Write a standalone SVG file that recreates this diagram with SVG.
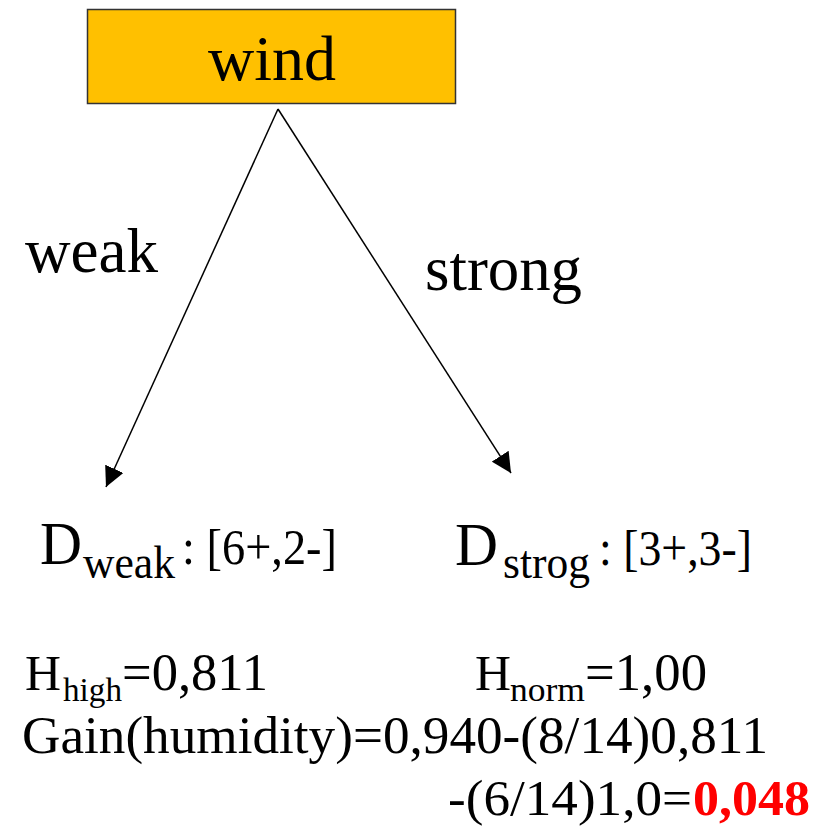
<svg xmlns="http://www.w3.org/2000/svg" width="823" height="826" viewBox="0 0 823 826">
<style>
text{font-family:"Liberation Serif","Times New Roman","DejaVu Serif",serif;fill:#000}
.c{stroke:#000;stroke-width:1.5;fill:none}
</style>
<defs>
<marker id="ah" viewBox="0 0 10 10" refX="10" refY="5" markerWidth="20" markerHeight="20" markerUnits="userSpaceOnUse" orient="auto">
<path d="M0,0 L10,5 L0,10 z" fill="#000"/>
</marker>
</defs>
<rect width="823" height="826" fill="#fff"/>
<g font-family="'Liberation Serif','Times New Roman',serif">
<g id="wind">
<rect x="87.5" y="9.5" width="368" height="94" fill="#FFC000" stroke="#333" stroke-width="1.5"/>
<text x="208" y="80" font-size="64" textLength="128" lengthAdjust="spacingAndGlyphs">wind</text>
</g>
<g id="connectors">
<line class="c" x1="278" y1="109" x2="106" y2="487" marker-end="url(#ah)"/>
<line class="c" x1="278" y1="109" x2="511" y2="473" marker-end="url(#ah)"/>
<text x="25" y="272" font-size="64" textLength="133" lengthAdjust="spacingAndGlyphs">weak</text>
<text x="425" y="290" font-size="64" textLength="157" lengthAdjust="spacingAndGlyphs">strong</text>
</g>
<g id="dweak">
<text x="40" y="564" font-size="62" textLength="42" lengthAdjust="spacingAndGlyphs">D</text>
<text x="83" y="578" font-size="46" textLength="92" lengthAdjust="spacingAndGlyphs">weak</text>
<text x="182" y="564" font-size="50" textLength="155" lengthAdjust="spacingAndGlyphs">: [6+,2-]</text>
</g>
<g id="dstrong">
<text x="455" y="565" font-size="62" textLength="43" lengthAdjust="spacingAndGlyphs">D</text>
<text x="503" y="578" font-size="46" textLength="87" lengthAdjust="spacingAndGlyphs">strog</text>
<text x="599" y="565" font-size="50" textLength="153" lengthAdjust="spacingAndGlyphs">: [3+,3-]</text>
</g>
<g id="formula">
<text x="25" y="690" font-size="50" textLength="36" lengthAdjust="spacingAndGlyphs">H</text>
<text x="63" y="701" font-size="34" textLength="59" lengthAdjust="spacingAndGlyphs">high</text>
<text x="122" y="690" font-size="52" textLength="146" lengthAdjust="spacingAndGlyphs">=0,811</text>
<text x="475" y="690" font-size="50" textLength="36" lengthAdjust="spacingAndGlyphs">H</text>
<text x="510" y="701" font-size="34" textLength="75" lengthAdjust="spacingAndGlyphs">norm</text>
<text x="585" y="690" font-size="52" textLength="122" lengthAdjust="spacingAndGlyphs">=1,00</text>
<text x="22" y="753" font-size="52" textLength="746" lengthAdjust="spacingAndGlyphs">Gain(humidity)=0,940-(8/14)0,811</text>
<text x="448" y="815" font-size="50" textLength="244" lengthAdjust="spacingAndGlyphs">-(6/14)1,0=</text>
<text x="693" y="815" font-size="50" font-weight="bold" fill="#FF0000" style="fill:#FF0000" textLength="117" lengthAdjust="spacingAndGlyphs">0,048</text>
</g>
</g>
</svg>
